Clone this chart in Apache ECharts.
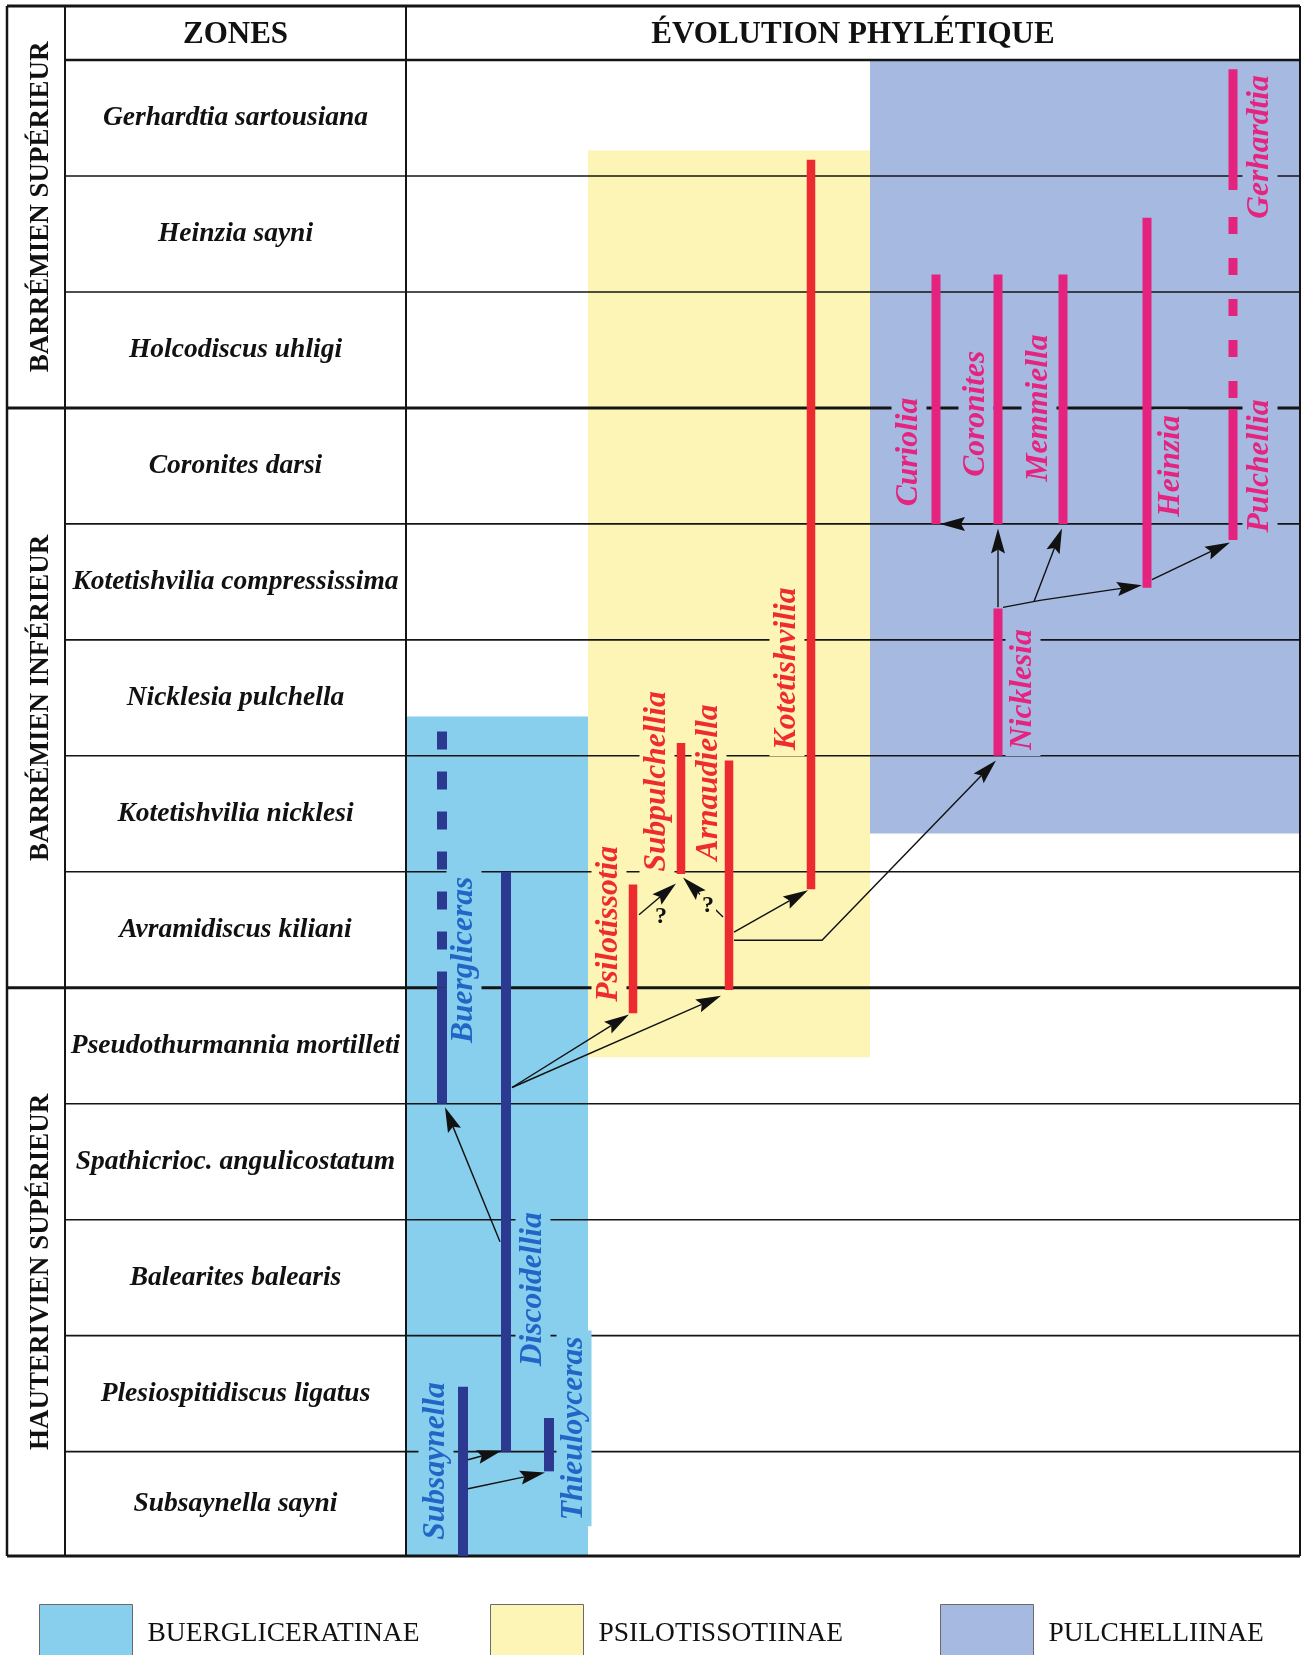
<!DOCTYPE html>
<html><head><meta charset="utf-8">
<script src="https://cdn.jsdelivr.net/npm/echarts@6/dist/echarts.min.js"></script>
<style>html,body{margin:0;padding:0;background:#fff}#c{width:1305px;height:1655px}</style>
</head><body><div id="c"></div><script>
// ---------------- DATA ----------------
const zones = ['Gerhardtia sartousiana','Heinzia sayni','Holcodiscus uhligi','Coronites darsi',
  'Kotetishvilia compressissima','Nicklesia pulchella','Kotetishvilia nicklesi','Avramidiscus kiliani',
  'Pseudothurmannia mortilleti','Spathicrioc. angulicostatum','Balearites balearis',
  'Plesiospitidiscus ligatus','Subsaynella sayni'];
const zoneBounds = [0,1,2,3,4,5,6,7,8,9,10,11,12,12.9];
const stages = [['BARRÉMIEN SUPÉRIEUR', -0.466, 3], ['BARRÉMIEN INFÉRIEUR', 3, 8], ['HAUTERIVIEN SUPÉRIEUR', 8, 12.9]];
const subfamilies = ['BUERGLICERATINAE','PSILOTISSOTIINAE','PULCHELLIINAE'];
const subfamilySpan = {BUERGLICERATINAE:[5.66,12.9], PSILOTISSOTIINAE:[0.78,8.6], PULCHELLIINAE:[0,6.67]};
const taxa = [
  ['Buergliceras','BUERGLICERATINAE'],['Discoidellia','BUERGLICERATINAE'],
  ['Subsaynella','BUERGLICERATINAE'],['Thieuloyceras','BUERGLICERATINAE'],
  ['Psilotissotia','PSILOTISSOTIINAE'],['Subpulchellia','PSILOTISSOTIINAE'],
  ['Arnaudiella','PSILOTISSOTIINAE'],['Kotetishvilia','PSILOTISSOTIINAE'],
  ['Nicklesia','PULCHELLIINAE'],['Curiolia','PULCHELLIINAE'],['Coronites','PULCHELLIINAE'],
  ['Memmiella','PULCHELLIINAE'],['Heinzia','PULCHELLIINAE'],['Gerhardtia','PULCHELLIINAE'],
  ['Pulchellia','PULCHELLIINAE']
];
// [taxon, from (zone units), to, certain]
const ranges = [
  ['Buergliceras',5.79,8.0,false],['Buergliceras',8.0,9.0,true],
  ['Discoidellia',7.0,12.0,true],['Subsaynella',11.44,12.9,true],['Thieuloyceras',11.71,12.17,true],
  ['Psilotissotia',7.11,8.22,true],['Subpulchellia',5.89,7.02,true],['Arnaudiella',6.04,8.02,true],
  ['Kotetishvilia',0.86,7.15,true],['Nicklesia',4.73,6.0,true],
  ['Curiolia',1.85,4.0,true],['Coronites',1.85,4.0,true],['Memmiella',1.85,4.0,true],
  ['Heinzia',1.36,4.55,true],['Gerhardtia',0.08,1.12,true],['Gerhardtia',1.353,2.914,false],
  ['Pulchellia',3.01,4.14,true]
];
// arrows: list of [x, zone-unit] points (last = tip)
const arrows = [
  [[512,8.86],[629,8.23]], [[512,8.86],[721,8.07]], [[500,10.19],[445,9.03]],
  [[468,12.07],[502,11.99]], [[468,12.32],[545,12.18]],
  [[639,7.37],[676,7.10]], [[723,7.39],[683,7.05]], [[734,7.52],[808,7.16]],
  [[734,7.59],[822,7.59],[996,6.04]],
  [[998,4.72],[998,4.04]], [[1034,4.67],[1062,4.04]],
  [[1003,4.72],[1040,4.66],[1142,4.53]], [[1152,4.48],[1230,4.16]], [[992,4.0],[940,4.0]]
];
const queries = [[661,7.39],[708,7.29]];

// ---------------- LAYOUT / STYLE ----------------
const SERIF = '"Liberation Serif","Times New Roman",serif';
const L = {tableLeft:7, stageRight:65, zoneRight:406, tableRight:1300, tableTopU:-0.466, headerU:-0.216,
  zoneLabelX:235.5, stageLabelX:41, panelCenterX:853,
  areaX:{BUERGLICERATINAE:[406,588], PSILOTISSOTIINAE:[588,870], PULCHELLIINAE:[870,1300]},
  legendLeft:[39,490,940]};
const laneX = {Buergliceras:442, Subsaynella:463, Discoidellia:506, Thieuloyceras:549,
  Psilotissotia:633, Subpulchellia:681, Arnaudiella:729, Kotetishvilia:811,
  Curiolia:936, Coronites:998, Nicklesia:998, Memmiella:1063, Heinzia:1147, Gerhardtia:1233, Pulchellia:1233};
const labelPos = {Buergliceras:[464,7.76], Discoidellia:[533,10.6], Subsaynella:[436,12.08], Thieuloyceras:[574,11.8],
  Psilotissotia:[609,7.45], Subpulchellia:[657,6.22], Arnaudiella:[709,6.23], Kotetishvilia:[787,5.25],
  Curiolia:[909,3.38], Coronites:[976,3.05], Memmiella:[1039,3.0], Heinzia:[1171,3.5],
  Gerhardtia:[1260,0.75], Pulchellia:[1260,3.5], Nicklesia:[1023,5.43]};
const areaColor = {BUERGLICERATINAE:'#87cfec', PSILOTISSOTIINAE:'#fcf5b5', PULCHELLIINAE:'#a6b9e0'};
const barColor = {BUERGLICERATINAE:'#2b3991', PSILOTISSOTIINAE:'#ec2a2f', PULCHELLIINAE:'#e3237e'};
const textColor = {BUERGLICERATINAE:'#2166c6', PSILOTISSOTIINAE:'#ee2b31', PULCHELLIINAE:'#e5247f'};
const barWidth = {BUERGLICERATINAE:10, PSILOTISSOTIINAE:8.5, PULCHELLIINAE:9};
const dashPattern = {Buergliceras:[18,22], Gerhardtia:[17,24]};
const groupOf = Object.fromEntries(taxa);

const chart = echarts.init(document.getElementById('c'), null, {width:1305, height:1655});

function areaSeries(name){
  return {type:'custom', name, coordinateSystem:'cartesian2d', z:1, silent:true,
    itemStyle:{color:areaColor[name]},
    data:[[L.areaX[name][0], L.areaX[name][1], subfamilySpan[name][0], subfamilySpan[name][1]]],
    encode:{x:[0,1], y:[2,3]},
    renderItem:(p,api)=>{
      const a=api.coord([api.value(0),api.value(2)]), b=api.coord([api.value(1),api.value(3)]);
      return {type:'rect', shape:{x:a[0],y:a[1],width:b[0]-a[0],height:b[1]-a[1]}, style:{fill:api.visual('color')}};
    }};
}

function tableRender(p, api){
  const P=(x,u)=>api.coord([x,u]);
  const ch=[];
  const hl=(x1,x2,u,w)=>{const a=P(x1,u),b=P(x2,u);ch.push({type:'line',shape:{x1:a[0],y1:a[1],x2:b[0],y2:b[1]},style:{stroke:'#151515',lineWidth:w}});};
  const vl=(x,u1,u2,w)=>{const a=P(x,u1),b=P(x,u2);ch.push({type:'line',shape:{x1:a[0],y1:a[1],x2:b[0],y2:b[1]},style:{stroke:'#151515',lineWidth:w}});};
  const top=L.tableTopU, bot=zoneBounds[zoneBounds.length-1];
  hl(L.tableLeft, L.tableRight, top, 3);
  hl(L.stageRight, L.tableRight, 0, 2.5);
  const stageB = stages.map(s=>s[2]);
  zoneBounds.slice(1,-1).forEach(u=>{
    if (stageB.includes(u)) hl(L.tableLeft, L.tableRight, u, 3);
    else hl(L.stageRight, L.tableRight, u, 1.6);
  });
  hl(L.tableLeft, L.tableRight, bot, 3);
  vl(L.tableLeft, top, bot, 2.5); vl(L.stageRight, top, bot, 2); vl(L.zoneRight, top, bot, 2); vl(L.tableRight, top, bot, 2);
  const h1=P(L.zoneLabelX, L.headerU), h2=P(L.panelCenterX, L.headerU);
  ch.push({type:'text', x:h1[0], y:h1[1], style:{text:'ZONES', font:'bold 31px '+SERIF, fill:'#111', align:'center', verticalAlign:'middle'}});
  ch.push({type:'text', x:h2[0], y:h2[1], style:{text:'ÉVOLUTION PHYLÉTIQUE', font:'bold 31px '+SERIF, fill:'#111', align:'center', verticalAlign:'middle'}});
  stages.forEach(s=>{const c=P(L.stageLabelX,(s[1]+s[2])/2);
    ch.push({type:'text', x:c[0], y:c[1], rotation:Math.PI/2, style:{text:s[0], font:'bold 27px '+SERIF, fill:'#111', align:'center', verticalAlign:'middle'}});});
  zones.forEach((z,i)=>{const c=P(L.zoneLabelX,(zoneBounds[i]+zoneBounds[i+1])/2);
    ch.push({type:'text', x:c[0], y:c[1], style:{text:z, font:'italic bold 27.5px '+SERIF, fill:'#111', align:'center', verticalAlign:'middle'}});});
  return {type:'group', children:ch};
}

function labelRender(p, api){
  const name=taxa[p.dataIndex][0], g=groupOf[name];
  const c=api.coord([api.value(0), api.value(1)]);
  return {type:'text', x:c[0], y:c[1], rotation:Math.PI/2,
    style:{text:name, font:'italic bold 31.5px '+SERIF, fill:textColor[g], align:'center', verticalAlign:'middle',
      backgroundColor:areaColor[g], padding:[0,6], lineHeight:35}};
}

function barRender(p, api){
  const r=ranges[p.dataIndex], g=groupOf[r[0]];
  const a=api.coord([api.value(0), api.value(1)]), b=api.coord([api.value(0), api.value(2)]);
  return {type:'line', shape:{x1:a[0],y1:a[1],x2:b[0],y2:b[1]},
    style:{stroke:barColor[g], lineWidth:barWidth[g], lineCap:'butt', lineDash: r[3]?null:dashPattern[r[0]]}};
}

function arrowRender(p, api){
  const pts=arrows[p.dataIndex].map(q=>api.coord(q));
  const n=pts.length, tip=pts[n-1], prev=pts[n-2];
  const dx=tip[0]-prev[0], dy=tip[1]-prev[1], len=Math.hypot(dx,dy), ux=dx/len, uy=dy/len;
  const HL=25, HW=7, NOTCH=4, px=-uy, py=ux;
  const base=[tip[0]-ux*HL, tip[1]-uy*HL];
  const inner=[tip[0]-ux*(HL-NOTCH), tip[1]-uy*(HL-NOTCH)];
  const head=[tip,[base[0]+px*HW, base[1]+py*HW], inner, [base[0]-px*HW, base[1]-py*HW]];
  return {type:'group', children:[
    {type:'polyline', shape:{points:pts.slice(0,n-1).concat([inner])}, style:{stroke:'#111', lineWidth:1.4, fill:null}},
    {type:'polygon', shape:{points:head}, style:{fill:'#111'}}]};
}

function queryRender(p, api){
  const c=api.coord([api.value(0), api.value(1)]);
  return {type:'text', x:c[0], y:c[1], style:{text:'?', font:'bold 24px '+SERIF, fill:'#111', align:'center', verticalAlign:'middle',
    backgroundColor:areaColor.PSILOTISSOTIINAE, padding:[0,2]}};
}

const option = {
  animation:false, backgroundColor:'#ffffff',
  grid:{left:0, right:0, top:60, bottom:99},
  xAxis:{type:'value', min:0, max:1305, show:false},
  yAxis:{type:'value', min:0, max:12.9, inverse:true, show:false},
  legend: subfamilies.map((name,i)=>({data:[name], left:L.legendLeft[i], top:1604, orient:'horizontal',
    icon:'rect', itemWidth:93, itemHeight:58, selectedMode:false, padding:0,
    itemStyle:{borderColor:'#6a6a6a', borderWidth:1},
    textStyle:{fontFamily:SERIF, fontSize:27.5, color:'#111', padding:[0,0,0,10]}})),
  series: [
    ...subfamilies.map(areaSeries),
    {type:'custom', name:'table', coordinateSystem:'cartesian2d', z:2, silent:true, data:[[0,0]], renderItem:tableRender},
    {type:'custom', name:'labels', coordinateSystem:'cartesian2d', z:3, silent:true,
      data:taxa.map(t=>labelPos[t[0]]), encode:{x:0,y:1}, renderItem:labelRender},
    {type:'custom', name:'ranges', coordinateSystem:'cartesian2d', z:4, silent:true,
      data:ranges.map(r=>[laneX[r[0]], r[1], r[2]]), encode:{x:0, y:[1,2]}, renderItem:barRender},
    {type:'custom', name:'arrows', coordinateSystem:'cartesian2d', z:5, silent:true,
      data:arrows.map((a,i)=>[a[0][0], a[0][1]]), encode:{x:0,y:1}, renderItem:arrowRender},
    {type:'custom', name:'queries', coordinateSystem:'cartesian2d', z:6, silent:true,
      data:queries, encode:{x:0,y:1}, renderItem:queryRender}
  ]
};
chart.setOption(option);
</script></body></html>
